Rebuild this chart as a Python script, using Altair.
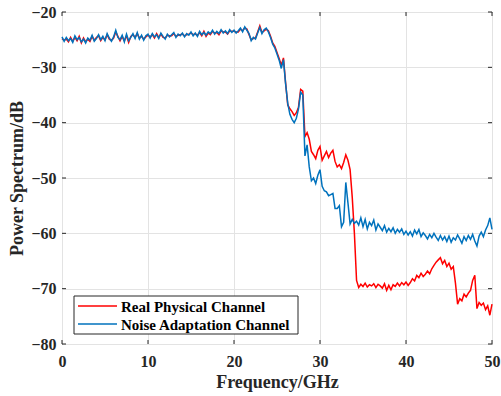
import altair as alt
import pandas as pd

freq = [i * 0.25 for i in range(201)]

real_physical = [
    -24.8, -25.1, -24.9, -25.4, -24.6, -25.3, -24.6, -25.2, -24.4, -25.6,
    -24.7, -25.4, -24.9, -25.3, -24.4, -25.1, -24.6, -24.3, -25.2, -24.6,
    -25.0, -24.1, -24.9, -25.1, -24.7, -23.6, -24.4, -25.2, -24.4, -25.2,
    -24.3, -25.5, -24.4, -24.1, -24.6, -23.9, -24.7, -24.4, -24.9, -24.5,
    -24.2, -24.5, -24.1, -24.7, -23.9, -24.6, -24.0, -24.6, -24.7, -24.2,
    -24.3, -24.3, -23.9, -24.4, -24.2, -24.1, -24.0, -24.3, -24.1, -24.0,
    -23.8, -24.1, -24.0, -24.2, -23.7, -24.3, -23.5, -24.4, -23.8, -24.1,
    -23.5, -23.8, -23.7, -24.1, -23.4, -23.6, -23.6, -24.0, -23.4, -23.5,
    -23.5, -23.6, -23.6, -23.1, -23.4, -22.9, -23.1, -24.1, -25.0, -24.8,
    -24.7, -23.6, -22.5, -23.7, -23.4, -23.1, -23.4, -24.4, -25.6, -26.2,
    -27.3, -28.4, -29.6, -28.3, -32.8, -36.8, -37.5, -38.0, -38.7, -38.2,
    -37.2, -34.0, -34.3, -42.5, -41.8, -43.0, -45.2, -45.8, -46.5, -45.0,
    -44.3, -46.8, -46.0, -45.2, -46.3, -45.5, -45.0, -47.0, -48.0, -47.6,
    -48.3, -47.2, -45.8, -46.8, -48.5, -53.5, -60.0, -68.5, -69.8, -69.2,
    -69.6, -69.0, -69.7, -69.3, -69.5, -69.1, -69.8, -69.2, -69.5, -69.9,
    -69.1, -70.3, -69.4, -70.2, -69.3, -69.6, -69.0, -69.5, -68.9, -69.3,
    -68.8, -69.4, -68.9, -68.2, -68.6, -67.6, -68.0, -67.2, -67.8, -67.4,
    -66.8, -67.3, -66.4, -65.8, -65.2, -64.8, -64.4, -65.5, -64.9, -66.0,
    -65.4, -66.5, -66.0, -69.0, -72.8, -71.8, -72.2, -71.0, -71.5, -70.8,
    -70.3, -68.5, -67.6, -73.6, -72.5, -73.0, -72.6, -73.8, -73.1, -74.8,
    -72.8,
]

noise_adaptation = [
    -24.5, -25.3, -24.6, -25.2, -24.8, -25.5, -24.3, -25.0, -24.6, -25.4,
    -24.9, -25.6, -24.7, -25.1, -24.2, -25.3, -24.8, -24.1, -25.0, -24.4,
    -25.2, -23.9, -24.7, -25.3, -24.5, -23.3, -24.6, -25.0, -24.2, -25.4,
    -24.0, -25.2, -24.6, -23.9, -24.8, -23.7, -24.9, -24.2, -25.1, -24.3,
    -24.0, -24.7, -23.9, -24.5, -24.1, -24.8, -23.8, -24.4, -24.9, -24.0,
    -24.5, -24.1, -23.7, -24.6, -24.0, -24.3, -23.8, -24.5, -23.9, -24.2,
    -23.6, -24.3, -23.8, -24.4, -23.5, -24.1, -23.7, -24.2, -23.6, -23.9,
    -23.3, -24.0, -23.5, -23.9, -23.2, -23.8, -23.4, -23.9, -23.2, -23.7,
    -23.3, -23.8, -23.4, -22.9, -23.6, -22.7, -23.3, -23.9, -25.2, -24.6,
    -24.9, -23.8, -22.8, -23.9, -23.2, -22.9, -23.6, -24.6, -25.8, -26.5,
    -27.6, -28.7, -30.2, -28.6, -33.0, -36.5, -38.5, -39.4, -40.0, -39.2,
    -37.5, -34.5, -35.0, -46.0, -44.0, -48.0, -50.5, -50.0, -51.0, -49.5,
    -48.5, -51.5, -52.3, -52.5, -53.2, -53.0, -52.8, -55.5, -55.5, -55.0,
    -58.8, -58.0, -50.8, -54.5, -58.3, -57.5, -58.2, -57.8, -58.5, -57.2,
    -58.8, -57.5, -59.2, -58.0, -58.6, -57.6, -59.4, -58.3, -58.9, -59.5,
    -58.6, -59.8, -59.1, -59.7, -59.0, -60.0, -59.3, -59.8, -59.2, -60.2,
    -59.6, -60.3, -59.7, -60.5, -59.4, -60.1, -59.3, -60.6, -59.9, -60.4,
    -61.0, -60.2, -60.8, -60.0, -60.7, -61.3, -60.4, -61.2, -60.6, -61.5,
    -60.5, -61.6, -60.8, -61.2, -60.3, -61.0, -61.8, -60.6, -61.3, -60.4,
    -61.1, -60.2, -61.4, -62.3, -60.5, -59.8, -60.6, -59.4, -58.6, -57.2,
    -59.3,
]

series_names = ["Real Physical Channel", "Noise Adaptation Channel"]
series_colors = ["#FF0000", "#0072BD"]
x_ticks = [0, 10, 20, 30, 40, 50]
y_ticks = [-80, -70, -60, -50, -40, -30, -20]

df_real = pd.DataFrame({"f": freq, "p": real_physical, "s": series_names[0]})
df_noise = pd.DataFrame({"f": freq, "p": noise_adaptation, "s": series_names[1]})
df_xt = pd.DataFrame({"t": x_ticks})
df_yt = pd.DataFrame({"t": y_ticks})

FONT = "Liberation Serif"
W, H = 430, 332
FRAME = "#262626"

xscale = alt.Scale(domain=[0, 50], nice=False, zero=False)
yscale = alt.Scale(domain=[-80, -20], nice=False, zero=False)

color = alt.Color(
    "s:N",
    scale=alt.Scale(domain=series_names, range=series_colors),
    legend=None,
)

axis_common = dict(
    grid=True,
    gridColor="#E3E3E3",
    gridWidth=1,
    domain=False,
    ticks=False,
    labelFont=FONT,
    labelFontSize=16,
    labelFontWeight="bold",
    labelColor=FRAME,
    titleFont=FONT,
    titleFontSize=18,
    titleFontWeight="bold",
    titleColor=FRAME,
    format="d",
)

x_enc = alt.X(
    "f:Q",
    scale=xscale,
    axis=alt.Axis(values=x_ticks, title="Frequency/GHz", labelPadding=9,
                  titlePadding=4, labelFlush=False, **axis_common),
)
y_enc = alt.Y(
    "p:Q",
    scale=yscale,
    axis=alt.Axis(values=y_ticks, title="Power Spectrum/dB", labelPadding=6,
                  titlePadding=4, **axis_common),
)

line_real = alt.Chart(df_real).mark_line(strokeWidth=1.5).encode(x=x_enc, y=y_enc, color=color)
line_noise = alt.Chart(df_noise).mark_line(strokeWidth=1.5).encode(x=x_enc, y=y_enc, color=color)

tick_len = 4
tx_bottom = alt.Chart(df_xt).mark_rule(color=FRAME, strokeWidth=1).encode(
    x=alt.X("t:Q", scale=xscale), y=alt.value(H), y2=alt.value(H - tick_len))
tx_top = alt.Chart(df_xt).mark_rule(color=FRAME, strokeWidth=1).encode(
    x=alt.X("t:Q", scale=xscale), y=alt.value(0), y2=alt.value(tick_len))
ty_left = alt.Chart(df_yt).mark_rule(color=FRAME, strokeWidth=1).encode(
    y=alt.Y("t:Q", scale=yscale), x=alt.value(0), x2=alt.value(tick_len))
ty_right = alt.Chart(df_yt).mark_rule(color=FRAME, strokeWidth=1).encode(
    y=alt.Y("t:Q", scale=yscale), x=alt.value(W), x2=alt.value(W - tick_len))

# manual legend
one = pd.DataFrame({"a": [0]})
leg_box = alt.Chart(one).mark_rect(fill="white", stroke=FRAME, strokeWidth=1).encode(
    x=alt.value(12), x2=alt.value(236), y=alt.value(284), y2=alt.value(322))
legend_layers = [leg_box]
row_y = [294, 312]
for name, col, yy in zip(series_names, series_colors, row_y):
    d = pd.DataFrame({"s": [name]})
    legend_layers.append(
        alt.Chart(d).mark_rule(color=col, strokeWidth=1.6).encode(
            x=alt.value(16), x2=alt.value(55), y=alt.value(yy)))
    legend_layers.append(
        alt.Chart(d).mark_text(font=FONT, fontSize=15, fontWeight="bold", color="#000000",
                               align="left", baseline="middle").encode(
            x=alt.value(59), y=alt.value(yy + 1), text="s:N"))

chart = (
    alt.layer(line_real, line_noise, tx_bottom, tx_top, ty_left, ty_right, *legend_layers)
    .properties(
        width=W,
        height=H,
        autosize=alt.AutoSizeParams(type="none"),
        padding={"left": 62, "top": 12, "right": 9, "bottom": 52},
        background="white",
    )
    .configure_view(stroke=FRAME, strokeWidth=1)
)

chart.save("out.html", embed_options={"renderer": "svg", "actions": False})
